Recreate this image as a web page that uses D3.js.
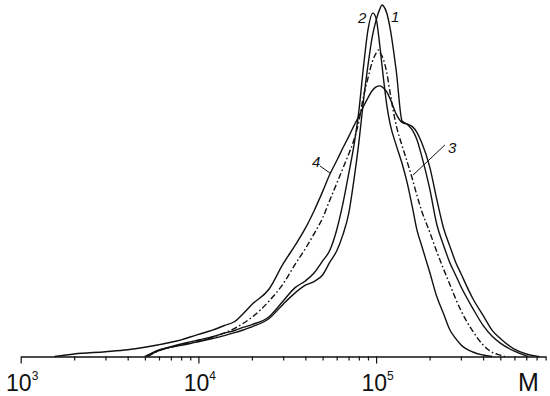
<!DOCTYPE html>
<html>
<head>
<meta charset="utf-8">
<script src="https://cdn.jsdelivr.net/npm/d3@7/dist/d3.min.js"></script>
<style>
  html, body { margin: 0; padding: 0; background: #fff; }
  svg { display: block; }
</style>
</head>
<body>
<div id="chart"></div>
<script>
// ---- Data (molecular weight M, relative height %) ----
const curve1M = [5.1e3,6e3,7e3,8e3,9e3,1e4,1.2e4,1.4e4,1.6e4,1.8e4,2e4,2.5e4,3e4,3.5e4,4e4,4.5e4,5e4,5.5e4,6e4,6.5e4,7e4,7.5e4,8e4,8.5e4,9e4,9.5e4,1e5,1.05e5,1.08e5,1.1e5,1.15e5,1.2e5,1.3e5,1.4e5,1.5e5,1.6e5,1.7e5,1.8e5,2e5,2.2e5,2.4e5,2.6e5,2.8e5,3e5,3.5e5,4e5,4.5e5,5e5,6e5,7e5,7.2e5];
const curve1H = [0,1.71,2.7,3.19,3.7,4.21,5.12,5.95,6.77,7.62,8.45,10.8,14.9,18.1,20.3,21.4,23.2,26.9,30.0,34.6,40.5,50.2,60.9,73.0,82.8,90.8,95.7,98.9,100,99.7,97.6,93.3,81.0,67.0,66.0,64.4,61.6,57.3,47.9,37.4,31.5,26.7,23.2,19.9,13.7,8.85,5.75,3.8,1.5,0.17,0];

const curve2M = [5e3,6e3,7e3,8e3,9e3,1e4,1.2e4,1.4e4,1.6e4,1.8e4,2e4,2.5e4,3e4,3.5e4,4e4,4.5e4,5e4,5.5e4,6e4,6.5e4,7e4,7.5e4,8e4,8.5e4,9e4,9.6e4,1e5,1.05e5,1.1e5,1.15e5,1.2e5,1.3e5,1.4e5,1.5e5,1.6e5,1.7e5,1.8e5,2e5,2.2e5,2.4e5,2.6e5,2.8e5,3e5,3.5e5,4e5,4.5e5];
const curve2H = [0,1.9,2.8,3.56,4.15,4.7,5.63,6.63,7.4,8.34,9.08,11.3,15.8,19.6,21.5,23.9,27.2,30.3,36.0,43.4,51.8,60.0,69.9,82.6,92.9,97.7,96.2,88.3,79.1,71.3,66.1,60.0,54.9,49.2,42.5,35.9,31.7,24.1,16.9,12.1,7.6,5.15,3.36,1.28,0.43,0];

const curve3M = [5.2e3,6e3,7e3,8e3,9e3,1e4,1.2e4,1.4e4,1.6e4,1.8e4,2e4,2.5e4,3e4,3.5e4,4e4,4.5e4,5e4,5.5e4,6e4,6.5e4,7e4,7.5e4,8e4,8.5e4,9e4,9.5e4,1e5,1.03e5,1.05e5,1.1e5,1.15e5,1.2e5,1.3e5,1.4e5,1.5e5,1.6e5,1.7e5,1.8e5,2e5,2.2e5,2.4e5,2.6e5,2.8e5,3e5,3.5e5,4e5,4.5e5,5e5,5.3e5];
const curve3H = [0,1.7,2.56,3.36,4.01,4.52,5.49,6.74,8.0,9.53,11.15,15.8,20.7,26.2,30.7,35.1,39.4,44.6,49.2,53.5,57.5,61.6,66.9,74.1,79.2,83.7,86.3,87.2,86.5,84.5,80.6,74.9,65.6,60.0,55.2,50.5,45.7,41.6,35.5,29.7,24.8,20.5,16.5,13.1,7.2,3.3,1.2,0.37,0];

const curve4M = [1.55e3,2e3,3e3,4e3,5e3,6e3,7e3,8e3,9e3,1e4,1.2e4,1.4e4,1.6e4,1.8e4,2e4,2.5e4,3e4,3.5e4,4e4,4.5e4,5e4,5.5e4,6e4,6.5e4,7e4,7.5e4,8e4,8.5e4,9e4,9.5e4,1e5,1.05e5,1.1e5,1.15e5,1.2e5,1.3e5,1.4e5,1.5e5,1.6e5,1.7e5,1.8e5,2e5,2.2e5,2.4e5,2.6e5,2.8e5,3e5,3.5e5,4e5,4.5e5,5e5,6e5,7e5,8e5,8.3e5];
const curve4H = [0,0.71,1.37,1.93,2.65,3.36,4.04,4.75,5.55,6.29,7.48,8.82,9.96,12.38,14.8,19.2,26.4,31.6,36.5,41.7,46.9,51.9,55.7,59.3,62.5,65.6,68.4,71.2,73.6,75.6,76.7,77.0,76.4,75.2,73.3,68.9,66.6,66.1,65.4,63.7,61.0,54.1,44.5,36.4,31.4,26.9,23.6,16.5,11.7,7.45,5.15,2.1,0.7,0.1,0];

// axis ticks
const majorTicks = [1e3, 1e4, 1e5];
const majorExponents = ["3", "4", "5"];
const minorTicks = [2e3,3e3,4e3,5e3,6e3,7e3,8e3,9e3,2e4,3e4,4e4,5e4,6e4,7e4,8e4,9e4,2e5,3e5,4e5,5e5,6e5,7e5,8e5,9e5];
const axisEnd = 9e5;
const axisTitle = "M";

// curve labels: [text, M, h] and leader lines [M1,h1,M2,h2]
const labelText = ["1", "2", "3", "4"];
const labelM = [1.213e5, 7.91e4, 2.54e5, 4.36e4];
const labelH = [95.2, 94.9, 57.9, 53.9];
const leaderFromM = [null, null, 2.44e5, 4.83e4];
const leaderFromH = [null, null, 60.2, 54.2];
const leaderToM = [null, null, 1.613e5, 5.5e4];
const leaderToH = [null, null, 51.6, 52.2];

// ---- Chart ----
const W = 550, H = 396;
const svg = d3.select("#chart").append("svg").attr("width", W).attr("height", H);
svg.append("rect").attr("width", W).attr("height", H).attr("fill", "#fff");

const x = d3.scaleLog().domain([1e3, 1e6]).range([20.7, 553.8]);
const y = d3.scaleLinear().domain([0, 100]).range([356.5, 5]);

const line = d3.line().x(d => x(d[0])).y(d => y(d[1])).curve(d3.curveMonotoneX);
const series = [
  {M: curve1M, H: curve1H, dash: null},
  {M: curve2M, H: curve2H, dash: null},
  {M: curve3M, H: curve3H, dash: "6,2.5,1.6,2.5"},
  {M: curve4M, H: curve4H, dash: null}
];
series.forEach(s => {
  const pts = s.M.map((m, i) => [m, s.H[i]]);
  svg.append("path")
    .attr("d", line(pts))
    .attr("fill", "none")
    .attr("stroke", "#111")
    .attr("stroke-width", 1.4)
    .attr("stroke-linejoin", "round")
    .attr("stroke-dasharray", s.dash);
});

// axis
const xAxisScale = x.copy().domain([1e3, axisEnd]).range([x(1e3), x(axisEnd)]);
const axisG = svg.append("g").attr("transform", `translate(0,${y(0)})`)
  .call(d3.axisBottom(xAxisScale)
    .tickValues(majorTicks.concat(minorTicks))
    .tickSize(4).tickSizeOuter(0).tickFormat(""));
axisG.select(".domain").attr("stroke", "#111").attr("stroke-width", 1.3);
axisG.selectAll(".tick line").attr("stroke", "#111").attr("stroke-width", 1.2)
  .attr("y2", d => majorTicks.includes(d) ? 7 : 4);

// tick labels
majorTicks.forEach((v, i) => {
  const t = svg.append("text")
    .attr("x", x(v) + 1.5).attr("y", 391)
    .attr("text-anchor", "middle")
    .attr("font-family", "'Liberation Sans', Arial, sans-serif")
    .attr("font-size", 23).attr("fill", "#111");
  t.append("tspan").text("10");
  t.append("tspan").attr("font-size", 12).attr("dy", -11).text(majorExponents[i]);
});
svg.append("text")
  .attr("x", 528.5).attr("y", 391)
  .attr("text-anchor", "middle")
  .attr("font-family", "'Liberation Sans', Arial, sans-serif")
  .attr("font-size", 25).attr("fill", "#111")
  .text(axisTitle);

// curve labels
labelText.forEach((t, i) => {
  svg.append("text")
    .attr("x", x(labelM[i])).attr("y", y(labelH[i]))
    .attr("font-family", "'Liberation Sans', Arial, sans-serif")
    .attr("font-style", "italic")
    .attr("font-size", 15).attr("fill", "#111")
    .text(t);
  if (leaderFromM[i] !== null) {
    svg.append("line")
      .attr("x1", x(leaderFromM[i])).attr("y1", y(leaderFromH[i]))
      .attr("x2", x(leaderToM[i])).attr("y2", y(leaderToH[i]))
      .attr("stroke", "#111").attr("stroke-width", 1);
  }
});
</script>
</body>
</html>
